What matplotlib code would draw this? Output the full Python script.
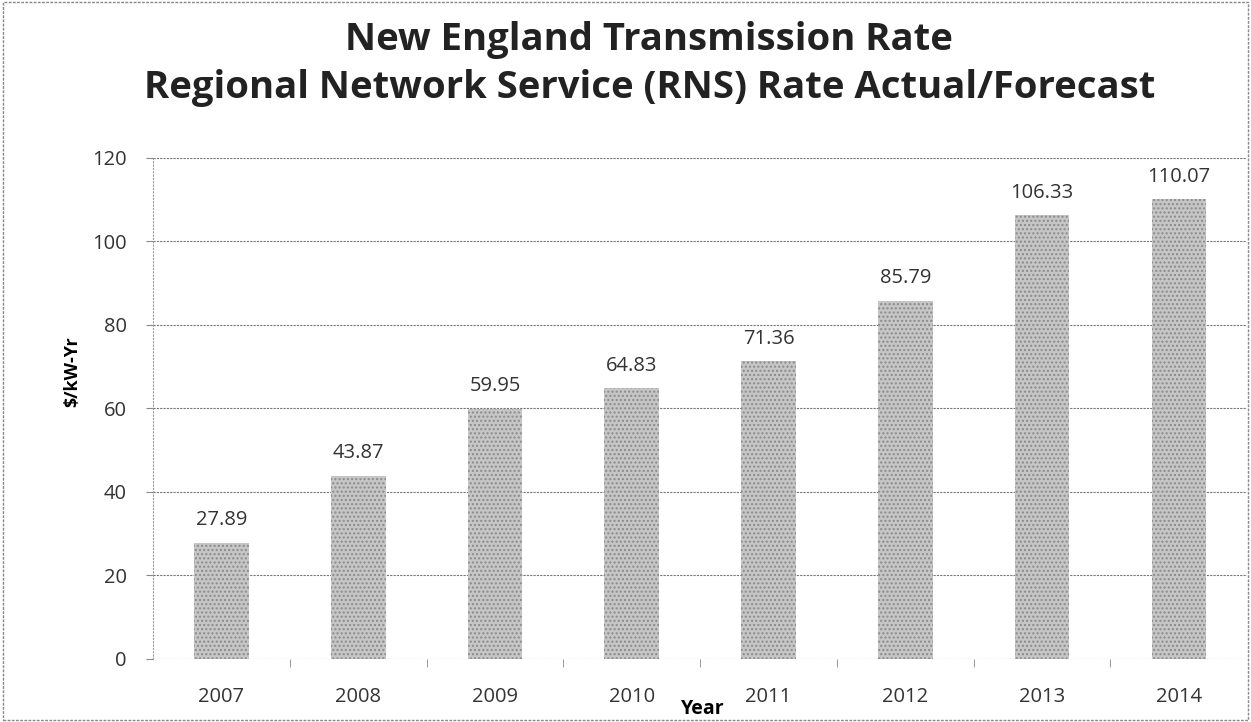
"""RNS transmission rate bar chart."""

import matplotlib
matplotlib.use("Agg")
import matplotlib.pyplot as plt
from matplotlib.patches import Rectangle

years = ["2007", "2008", "2009", "2010", "2011", "2012", "2013", "2014"]
rates = [27.89, 43.87, 59.95, 64.83, 71.36, 85.79, 106.33, 110.07]
y_ticks = [0, 20, 40, 60, 80, 100, 120]

plt.rcParams["font.family"] = ["Open Sans", "DejaVu Sans"]

fig = plt.figure(figsize=(12.51, 7.22), dpi=100)
ax = fig.add_axes([0.1223, 0.0873, 0.8747, 0.6939])

x = list(range(len(years)))
bars = ax.bar(x, rates, width=0.40, color="#c6c6c6", edgecolor="#8a8a8a",
              hatch="....", linewidth=0, zorder=3)
for b, v in zip(bars, rates):
    ax.annotate(f"{v:.2f}", (b.get_x() + b.get_width() / 2, v),
                xytext=(0, 9), textcoords="offset points",
                ha="center", va="bottom", fontsize=14.5, color="#333333")

ax.set_xlim(-0.5, len(years) - 0.5)
ax.set_ylim(0, 120)
ax.set_yticks(y_ticks)
ax.set_xticks(x)
ax.set_xticklabels(years)
ax.set_xticks([i + 0.5 for i in x[:-1]], minor=True)
ax.tick_params(axis="x", which="major", length=0, pad=20, labelsize=14.5,
               labelcolor="#333333")
ax.tick_params(axis="x", which="minor", length=6, color="#888888", direction="out")
ax.tick_params(axis="y", length=5, pad=14, labelsize=14.5, labelcolor="#333333",
               color="#888888")

ax.grid(axis="y", color="#777777", linestyle=(0, (2, 1)), linewidth=0.8, zorder=0)
for side in ["top", "right", "bottom"]:
    ax.spines[side].set_visible(False)
ax.spines["left"].set_color("#999999")
ax.spines["left"].set_linestyle((0, (1, 2)))

fig.text(0.058, 0.485, "$/kW-Yr", fontsize=13, fontweight="bold",
         rotation=90, ha="center", va="center")
fig.text(0.562, 0.011, "Year", fontsize=14, fontweight="bold", ha="center")

fig.text(0.519, 0.944, "New England Transmission Rate", fontsize=27.5,
         fontweight="bold", ha="center", va="center", color="#222222")
fig.text(0.519, 0.878, "Regional Network Service (RNS) Rate Actual/Forecast",
         fontsize=27.5, fontweight="bold", ha="center", va="center", color="#222222")

# thin frame around the whole chart
fig.patches.append(Rectangle((0.002, 0.003), 0.996, 0.994, transform=fig.transFigure,
                             fill=False, edgecolor="#888888", linewidth=1,
                             linestyle=(0, (2, 1))))

fig.savefig("out.png", dpi=100)
